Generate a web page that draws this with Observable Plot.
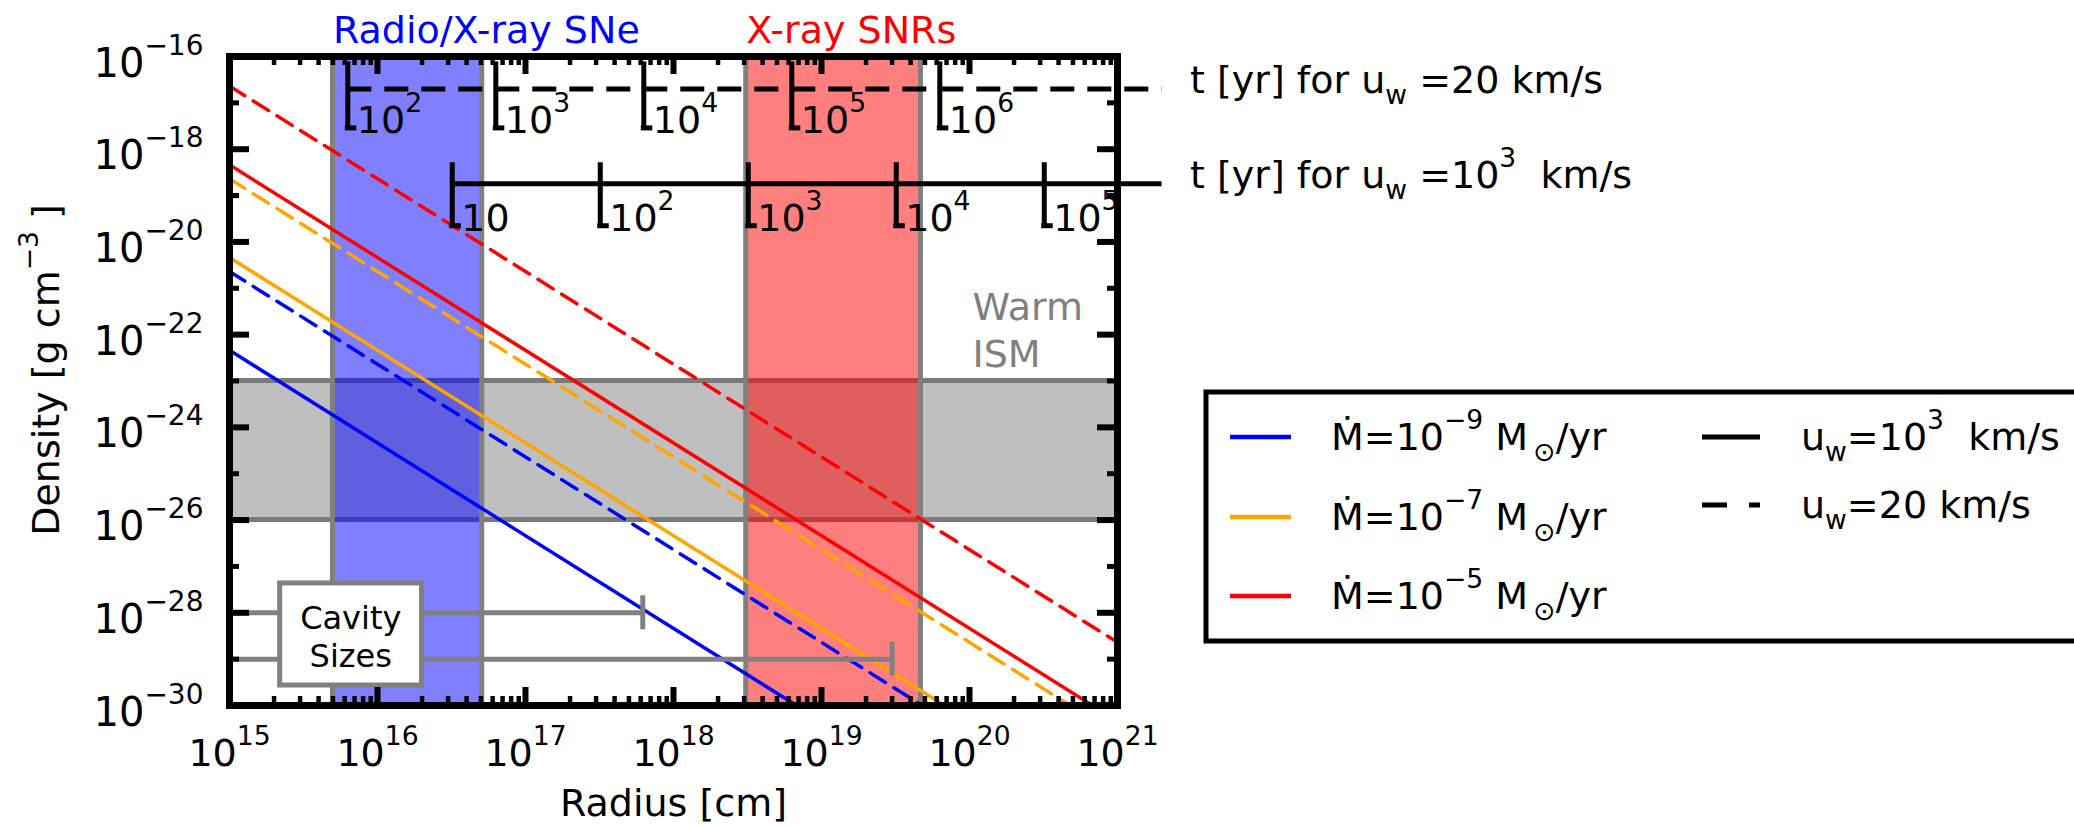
<!DOCTYPE html>
<html>
<head>
<meta charset="utf-8">
<script src="https://cdn.jsdelivr.net/npm/d3@7"></script>
<script src="https://cdn.jsdelivr.net/npm/@observablehq/plot@0.6"></script>
<style>
  body { margin: 0; background: #fff; }
  svg text { white-space: pre; }
</style>
</head>
<body>
<div id="chart"></div>
<script>
// ---------------- data ----------------
const radiusDomain = [1e15, 1e21];            // Radius [cm]
const densityDomain = [1e-30, 1e-16];         // Density [g cm^-3]
const seriesNames = ["1e-9", "1e-7", "1e-5"]; // mass-loss rates (Msun/yr)
const seriesLabels = ["Ṁ=10^{−9} M_{\u2009⊙}/yr", "Ṁ=10^{−7} M_{\u2009⊙}/yr", "Ṁ=10^{−5} M_{\u2009⊙}/yr"];
const lineRadius = [1e15, 1e21];              // end points of each straight (log-log) line
const fastDensity = [[4.6e-23, 4.6e-35], [4.6e-21, 4.6e-33], [4.6e-19, 4.6e-31]]; // u_w = 1e3 km/s
const slowDensity = [[2.3e-21, 2.3e-33], [2.3e-19, 2.3e-31], [2.3e-17, 2.3e-29]]; // u_w = 20 km/s
const ismBand = [1e-26, 1e-23];
const sneBand = [5e15, 5.1e16];
const snrBand = [3.1e18, 4.7e19];
const cavityDensity = [1e-28, 1e-29];
const cavityRadius = [6.2e17, 3.0e19];
const slowTimeRadius = [6.3e15, 6.3e16, 6.3e17, 6.3e18, 6.3e19];
const slowTimeLabels = ["10^{2}", "10^{3}", "10^{4}", "10^{5}", "10^{6}"];
const fastTimeRadius = [3.2e16, 3.2e17, 3.2e18, 3.2e19, 3.2e20];
const fastTimeLabels = ["10", "10^{2}", "10^{3}", "10^{4}", "10^{5}"];
const slowAxisDensity = 2e-17;
const fastAxisDensity = 1.8e-19;
const timeAxisEnd = 2e21;
const xTickExponents = [15, 16, 17, 18, 19, 20, 21];
const yTickExponents = [-30, -29, -28, -27, -26, -25, -24, -23, -22, -21, -20, -19, -18, -17, -16];
const speedLabels = ["u_{w}=10^{3}  km/s", "u_{w}=20 km/s"];

// ---------------- styles ----------------
const colors = ["#0000ff", "#ffa500", "#ff0000"];
const FS = 38;
const FONT = "DejaVu Sans";
const GRAY = "#808080";

// ---------------- derived tables ----------------
const lineRows = (dens, speed) => dens.flatMap((pair, i) =>
  pair.map((rho, j) => ({series: seriesNames[i], speed, r: lineRadius[j], rho})));
const fastRows = lineRows(fastDensity, "fast");
const slowRows = lineRows(slowDensity, "slow");

const logTicks = d3.scaleLog().domain(radiusDomain).ticks();
const isDecade = v => Math.abs(Math.log10(v) - Math.round(Math.log10(v))) < 1e-9;
const xMajor = logTicks.filter(isDecade);
const xMinor = logTicks.filter(v => !isDecade(v));
const yMajorExp = yTickExponents.filter(e => e % 2 === 0);
const yMajor = yMajorExp.map(e => Math.pow(10, e));
const yMinor = yTickExponents.filter(e => e % 2 !== 0).map(e => Math.pow(10, e));
const minus = s => String(s).replace("-", "−");

const MAJ = 18, MIN = 9;

const chart = Plot.plot({
  width: 2074,
  height: 825,
  marginLeft: 229,
  marginRight: 957,
  marginTop: 56,
  marginBottom: 120,
  style: {fontFamily: FONT, fontSize: FS + "px", background: "white", overflow: "visible"},
  x: {type: "log", domain: radiusDomain, axis: null},
  y: {type: "log", domain: densityDomain, axis: null},
  color: {type: "ordinal", domain: seriesNames, range: colors},
  marks: [
    // warm ISM band
    Plot.rect([ismBand], {x1: radiusDomain[0], x2: radiusDomain[1], y1: d => d[0], y2: d => d[1],
      fill: GRAY, fillOpacity: 0.5, stroke: "#7a7a7a", strokeWidth: 5, clip: true}),
    // radio / X-ray SNe band
    Plot.rect([sneBand], {x1: d => d[0], x2: d => d[1], y1: densityDomain[0], y2: densityDomain[1],
      fill: "#0000ff", fillOpacity: 0.5, stroke: GRAY, strokeWidth: 5, clip: true}),
    // X-ray SNR band
    Plot.rect([snrBand], {x1: d => d[0], x2: d => d[1], y1: densityDomain[0], y2: densityDomain[1],
      fill: "#ff0000", fillOpacity: 0.5, stroke: GRAY, strokeWidth: 5, clip: true}),
    // wind density profiles
    Plot.line(fastRows, {x: "r", y: "rho", z: "series", stroke: "series", strokeWidth: 3.5, clip: true}),
    Plot.line(slowRows, {x: "r", y: "rho", z: "series", stroke: "series", strokeWidth: 3.5,
      strokeDasharray: "18,10", clip: true}),
    // cavity sizes
    Plot.ruleY(cavityDensity, {y: d => d, x1: radiusDomain[0], x2: (d, i) => cavityRadius[i],
      stroke: GRAY, strokeWidth: 5}),
    Plot.ruleX(cavityRadius, {x: d => d, y1: (d, i) => cavityDensity[i], y2: (d, i) => cavityDensity[i],
      insetTop: -17, insetBottom: -17, stroke: GRAY, strokeWidth: 5}),
    Plot.rect(["box"], {x1: 2.2e15, x2: 2.0e16, y1: 2.7e-30, y2: 4.3e-28,
      fill: "white", stroke: GRAY, strokeWidth: 5}),
    Plot.text(["Cavity\nSizes"], {x: 6.6e15, y: 3.2e-29, text: d => d, fontSize: 32, lineHeight: 1.19,
      lineAnchor: "middle", fill: "black"}),
    // warm ISM label
    Plot.text(["Warm\nISM"], {x: 1e20, y: 2e-23, text: d => d, dx: 3, textAnchor: "start",
      lineAnchor: "bottom", lineHeight: 1.24, fontSize: FS, fill: GRAY}),
    // band labels
    Plot.text(["Radio/X-ray SNe"], {x: sneBand[0], y: densityDomain[1], text: d => d, dy: -14,
      textAnchor: "start", lineAnchor: "bottom", fontSize: FS, fill: "#0000ff"}),
    Plot.text(["X-ray SNRs"], {x: snrBand[0], y: densityDomain[1], text: d => d, dy: -14,
      textAnchor: "start", lineAnchor: "bottom", fontSize: FS, fill: "#ff0000"}),
    // time axes (slow = dashed, fast = solid)
    Plot.ruleY([slowAxisDensity], {y: d => d, x1: slowTimeRadius[0], x2: timeAxisEnd,
      stroke: "black", strokeWidth: 5, strokeDasharray: "24,13"}),
    Plot.ruleY([fastAxisDensity], {y: d => d, x1: fastTimeRadius[0], x2: timeAxisEnd,
      stroke: "black", strokeWidth: 5}),
    Plot.ruleX(slowTimeRadius, {x: d => d, y1: slowAxisDensity, y2: slowAxisDensity,
      insetTop: -27, insetBottom: -41, stroke: "black", strokeWidth: 5}),
    Plot.ruleX(fastTimeRadius, {x: d => d, y1: fastAxisDensity, y2: fastAxisDensity,
      insetTop: -21, insetBottom: -44, stroke: "black", strokeWidth: 5}),
    Plot.ruleY(slowTimeRadius, {y: slowAxisDensity, x1: d => d, x2: d => d, insetLeft: -2.5, insetRight: -9,
      dy: 39, stroke: "black", strokeWidth: 5}),
    Plot.ruleY(fastTimeRadius, {y: fastAxisDensity, x1: d => d, x2: d => d, insetLeft: -2.5, insetRight: -9,
      dy: 42, stroke: "black", strokeWidth: 5}),
    Plot.text(slowTimeRadius, {x: d => d, y: slowAxisDensity, text: (d, i) => slowTimeLabels[i],
      textAnchor: "start", lineAnchor: "bottom", dx: 9, dy: 44, fontSize: FS, fill: "black"}),
    Plot.text(fastTimeRadius, {x: d => d, y: fastAxisDensity, text: (d, i) => fastTimeLabels[i],
      textAnchor: "start", lineAnchor: "bottom", dx: 9, dy: 47, fontSize: FS, fill: "black"}),
    Plot.text(["t [yr] for u_{w} =20 km/s"], {x: timeAxisEnd, y: slowAxisDensity, text: d => d,
      dx: 28, dy: -8, textAnchor: "start", lineAnchor: "middle", fontSize: FS, fill: "black"}),
    Plot.text(["t [yr] for u_{w} =10^{3}  km/s"], {x: timeAxisEnd, y: fastAxisDensity, text: d => d,
      dx: 28, dy: -8, textAnchor: "start", lineAnchor: "middle", fontSize: FS, fill: "black"}),
    // frame
    Plot.frame({stroke: "black", strokeWidth: 7}),
    // inward ticks: bottom, top, left, right
    Plot.ruleX(xMajor, {x: d => d, y1: densityDomain[0], y2: densityDomain[0], insetTop: -MAJ, strokeWidth: 6}),
    Plot.ruleX(xMinor, {x: d => d, y1: densityDomain[0], y2: densityDomain[0], insetTop: -MIN, strokeWidth: 4.5}),
    Plot.ruleX(xMajor, {x: d => d, y1: densityDomain[1], y2: densityDomain[1], insetBottom: -MAJ, strokeWidth: 6}),
    Plot.ruleX(xMinor, {x: d => d, y1: densityDomain[1], y2: densityDomain[1], insetBottom: -MIN, strokeWidth: 4.5}),
    Plot.ruleY(yMajor, {y: d => d, x1: radiusDomain[0], x2: radiusDomain[0], insetRight: -MAJ - 2, strokeWidth: 6}),
    Plot.ruleY(yMinor, {y: d => d, x1: radiusDomain[0], x2: radiusDomain[0], insetRight: -MIN - 1, strokeWidth: 5}),
    Plot.ruleY(yMajor, {y: d => d, x1: radiusDomain[1], x2: radiusDomain[1], insetLeft: -MAJ - 2, strokeWidth: 6}),
    Plot.ruleY(yMinor, {y: d => d, x1: radiusDomain[1], x2: radiusDomain[1], insetLeft: -MIN - 1, strokeWidth: 5}),
    // tick labels
    Plot.text(xTickExponents, {x: e => Math.pow(10, e), y: densityDomain[0], text: e => `10^{${e}}`,
      dy: 60, lineAnchor: "bottom", textAnchor: "middle", fontSize: FS, fill: "black"}),
    Plot.text(yMajorExp, {x: radiusDomain[0], y: e => Math.pow(10, e), text: e => `10^{${minus(e)}}`,
      dx: -26, dy: 20, lineAnchor: "bottom", textAnchor: "end", fontSize: 40, fill: "black"}),
    // axis titles
    Plot.text(["Radius [cm]"], {x: 1e18, y: densityDomain[0], text: d => d, dy: 110,
      lineAnchor: "bottom", fontSize: FS, fill: "black"}),
    Plot.text(["Density [g cm^{−3} ]"], {frameAnchor: "left", text: d => d, rotate: -90, dx: -171, dy: -11,
      textAnchor: "middle", lineAnchor: "bottom", fontSize: FS, fill: "black"})
  ]
});

document.getElementById("chart").appendChild(chart);

// ---------------- legend (drawn into the same SVG) ----------------
const svg = d3.select(chart);
const lg = svg.append("g").attr("font-family", FONT).attr("font-size", FS)
  .attr("text-anchor", "start").attr("fill", "black");
lg.append("rect").attr("x", 1206).attr("y", 392).attr("width", 1000).attr("height", 249)
  .attr("fill", "white").attr("stroke", "black").attr("stroke-width", 5);
const rowY = [437, 517, 596];
seriesLabels.forEach((lab, i) => {
  lg.append("line").attr("x1", 1230).attr("x2", 1291).attr("y1", rowY[i]).attr("y2", rowY[i])
    .attr("stroke", colors[i]).attr("stroke-width", 4.5);
  lg.append("text").attr("x", 1331).attr("y", rowY[i] + 13).text(lab);
});
const rowY2 = [437, 505];
const dashes = [null, "25,22"];
speedLabels.forEach((lab, i) => {
  const l = lg.append("line").attr("x1", 1702).attr("x2", 1760).attr("y1", rowY2[i]).attr("y2", rowY2[i])
    .attr("stroke", "black").attr("stroke-width", 5);
  if (dashes[i]) l.attr("stroke-dasharray", dashes[i]);
  lg.append("text").attr("x", 1801).attr("y", rowY2[i] + 13).text(lab);
});

// ---------------- rich text: ^{...} superscripts and _{...} subscripts ----------------
const NS = "http://www.w3.org/2000/svg";
function richify(el) {
  const text = el.textContent;
  if (!/[\^_]\{/.test(text)) return;
  const re = /(\^|_)\{([^}]*)\}/g;
  const parts = [];
  let last = 0, m;
  while ((m = re.exec(text))) {
    if (m.index > last) parts.push({t: text.slice(last, m.index), k: "n"});
    parts.push({t: m[2], k: m[1] === "^" ? "sup" : "sub"});
    last = re.lastIndex;
  }
  if (last < text.length) parts.push({t: text.slice(last), k: "n"});
  while (el.firstChild) el.removeChild(el.firstChild);
  let cur = 0;
  for (const p of parts) {
    const ts = document.createElementNS(NS, "tspan");
    const target = p.k === "sup" ? -0.55 : p.k === "sub" ? 0.3 : 0;
    const size = p.k === "n" ? 1 : 0.7;
    const delta = target - cur;
    if (delta) ts.setAttribute("dy", (delta / size).toFixed(3) + "em");
    if (size !== 1) ts.setAttribute("font-size", "0.7em");
    ts.textContent = p.t;
    el.appendChild(ts);
    cur = target;
  }
}
chart.querySelectorAll("text").forEach(t => {
  if (t.children.length === 0) richify(t);
});
</script>
</body>
</html>
